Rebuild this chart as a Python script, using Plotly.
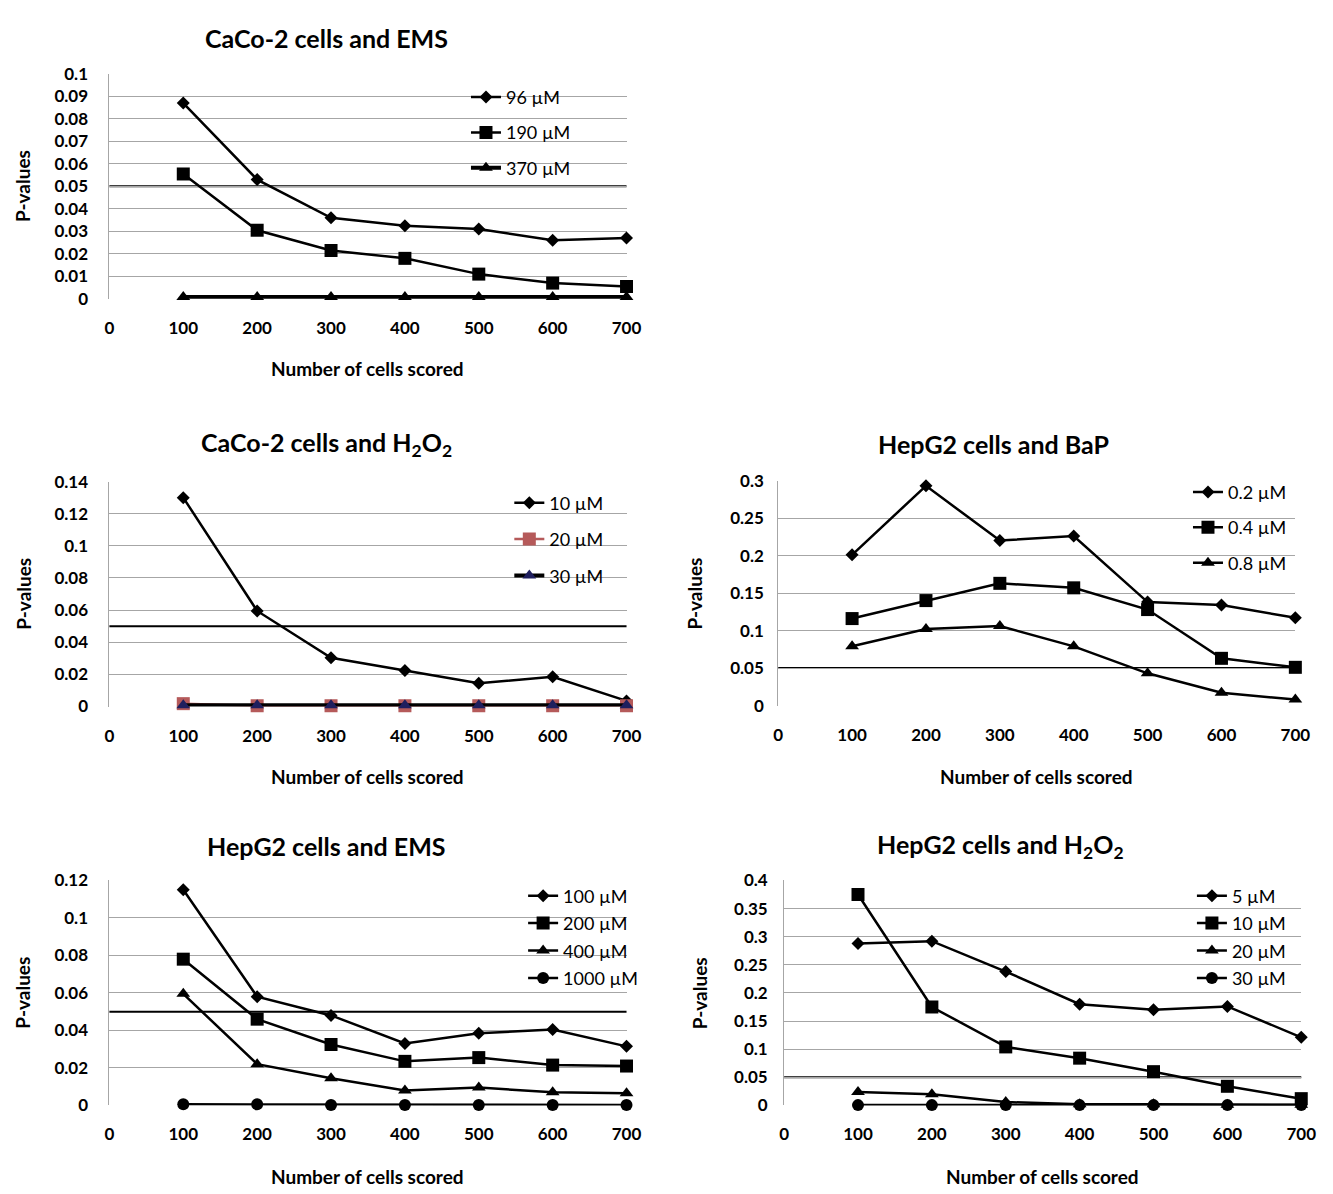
import plotly.graph_objects as go

W, H = 1333, 1194
cells = [100, 200, 300, 400, 500, 600, 700]
x_ticks = [0, 100, 200, 300, 400, 500, 600, 700]
THRESH = 0.05

# Panel 1: CaCo-2 cells and EMS
p1_names = ["96 µM", "190 µM", "370 µM"]
p1_96 = [0.087, 0.053, 0.036, 0.0325, 0.031, 0.026, 0.027]
p1_190 = [0.0555, 0.0305, 0.0215, 0.018, 0.011, 0.007, 0.0055]
p1_370 = [0.0008, 0.0008, 0.0008, 0.0008, 0.0008, 0.0008, 0.0008]

# Panel 2: CaCo-2 cells and H2O2
p2_names = ["10 µM", "20 µM", "30 µM"]
p2_10 = [0.13, 0.0595, 0.0303, 0.0225, 0.0145, 0.0185, 0.0035]
p2_20 = [0.0018, 0.0005, 0.0005, 0.0005, 0.0005, 0.0005, 0.0005]
p2_30 = [0.0008, 0.0008, 0.0008, 0.0008, 0.0008, 0.0008, 0.0008]

# Panel 3: HepG2 cells and BaP
p3_names = ["0.2 µM", "0.4 µM", "0.8 µM"]
p3_02 = [0.201, 0.293, 0.220, 0.226, 0.138, 0.134, 0.117]
p3_04 = [0.116, 0.140, 0.163, 0.157, 0.128, 0.063, 0.051]
p3_08 = [0.079, 0.102, 0.106, 0.079, 0.043, 0.017, 0.008]

# Panel 4: HepG2 cells and EMS
p4_names = ["100 µM", "200 µM", "400 µM", "1000 µM"]
p4_100 = [0.115, 0.058, 0.048, 0.033, 0.0385, 0.0405, 0.0315]
p4_200 = [0.078, 0.046, 0.0325, 0.0235, 0.0255, 0.0215, 0.021]
p4_400 = [0.0595, 0.022, 0.0145, 0.008, 0.0095, 0.007, 0.0065]
p4_1000 = [0.0006, 0.0006, 0.0002, 0.0002, 0.0002, 0.0002, 0.0002]

# Panel 5: HepG2 cells and H2O2
p5_names = ["5 µM", "10 µM", "20 µM", "30 µM"]
p5_5 = [0.288, 0.292, 0.238, 0.180, 0.170, 0.176, 0.121]
p5_10 = [0.375, 0.175, 0.104, 0.084, 0.060, 0.034, 0.012]
p5_20 = [0.024, 0.020, 0.006, 0.002, 0.002, 0.001, 0.001]
p5_30 = [0.0005, 0.0005, 0.0005, 0.0005, 0.0005, 0.0005, 0.0005]

titles = ["CaCo-2 cells and EMS", "CaCo-2 cells and H<sub>2</sub>O<sub>2</sub>",
          "HepG2 cells and BaP", "HepG2 cells and EMS", "HepG2 cells and H<sub>2</sub>O<sub>2</sub>"]
y_ranges = [[0, 0.1], [0, 0.14], [0, 0.3], [0, 0.12], [0, 0.4]]
y_dtick = [0.01, 0.02, 0.05, 0.02, 0.05]

FONT = "Lato, 'Open Sans', sans-serif"
BLACK = "#000000"
GRID = "#a6a6a6"

def px_x(p):
    return p / W

def px_y(p):
    return 1 - p / H

# plot area pixel boxes (left, right, top, bottom)
boxes = [
    (106, 631, 64, 293),
    (106, 631, 479, 708),
    (785, 1310, 478, 707),
    (106, 631, 885, 1114),
    (791, 1316, 885, 1114),
]

SYM = {"d": ("diamond", 10), "s": ("square", 13), "t": ("triangle-up", 12), "c": ("circle", 12)}

panels = [
    [(p1_names[0], p1_96, "d", BLACK, BLACK, 2.5),
     (p1_names[1], p1_190, "s", BLACK, BLACK, 2.5),
     (p1_names[2], p1_370, "t", BLACK, BLACK, 4)],
    [(p2_names[0], p2_10, "d", BLACK, BLACK, 2.5),
     (p2_names[1], p2_20, "s", "#b55a5a", "#b55a5a", 2.5),
     (p2_names[2], p2_30, "t", "#1f1f5e", BLACK, 4)],
    [(p3_names[0], p3_02, "d", BLACK, BLACK, 2.5),
     (p3_names[1], p3_04, "s", BLACK, BLACK, 2.5),
     (p3_names[2], p3_08, "t", BLACK, BLACK, 2.5)],
    [(p4_names[0], p4_100, "d", BLACK, BLACK, 2.5),
     (p4_names[1], p4_200, "s", BLACK, BLACK, 2.5),
     (p4_names[2], p4_400, "t", BLACK, BLACK, 2.5),
     (p4_names[3], p4_1000, "c", BLACK, BLACK, 2.5)],
    [(p5_names[0], p5_5, "d", BLACK, BLACK, 2.5),
     (p5_names[1], p5_10, "s", BLACK, BLACK, 2.5),
     (p5_names[2], p5_20, "t", BLACK, BLACK, 2.5),
     (p5_names[3], p5_30, "c", BLACK, BLACK, 2.5)],
]

# legend anchor (px: left, top) and gap between entries
legend_pos = [(468, 69, 9), (512, 482, 10), (1201, 471, 9), (526, 882, 1), (1205, 882, 1)]
title_pos = [(326, 27), (326, 441), (1004, 441), (326, 850), (1011, 850)]
ytitle_x = [18, 18, 700, 18, 705]
xtitle_y = [364, 779, 779, 1186, 1186]
ystandoff = [17, 17, 10, 17, 12]

fig = go.Figure()
layout = dict(
    autosize=True, margin=dict(l=0, r=0, t=0, b=0),
    paper_bgcolor="white", plot_bgcolor="white",
    font=dict(family=FONT, color=BLACK), showlegend=True,
)
annotations = []
shapes = []

for i, (box, series) in enumerate(zip(boxes, panels)):
    n = i + 1
    xa = "x" if n == 1 else f"x{n}"
    ya = "y" if n == 1 else f"y{n}"
    leg = "legend" if n == 1 else f"legend{n}"
    l, r, t, b = box
    for j, (name, vals, sym, mcol, lcol, lw) in enumerate(series):
        s, sz = SYM[sym]
        fig.add_trace(go.Scatter(
            x=cells, y=vals, name=name, mode="lines+markers",
            line=dict(color=lcol, width=lw),
            marker=dict(symbol=s, size=sz, color=mcol),
            xaxis=xa, yaxis=ya, legend=leg, legendgroup=f"p{n}g{j}",
            cliponaxis=False,
        ))
    layout[f"xaxis{'' if n == 1 else n}"] = dict(
        domain=[px_x(l), px_x(r)], anchor=ya, range=[0, 700],
        tickvals=x_ticks, showgrid=False, zeroline=False, showline=False,
        ticks="", tickfont=dict(size=17, family=FONT, color=BLACK, weight="bold"),
        ticklabelstandoff=17,
    )
    layout[f"yaxis{'' if n == 1 else n}"] = dict(
        domain=[px_y(b), px_y(t)], anchor=xa, range=y_ranges[i], dtick=y_dtick[i],
        showgrid=True, gridcolor=GRID, gridwidth=1, zeroline=False,
        showline=True, linecolor=GRID, linewidth=1,
        ticks="", tickfont=dict(size=17, family=FONT, color=BLACK, weight="bold"),
        ticklabelstandoff=ystandoff[i],
    )
    lx, ly, gap = legend_pos[i]
    layout[leg] = dict(
        x=px_x(lx), y=px_y(ly), xanchor="left", yanchor="top",
        xref="paper", yref="paper", bgcolor="rgba(0,0,0,0)",
        font=dict(size=18, family=FONT, color=BLACK),
        tracegroupgap=gap, traceorder="grouped", itemwidth=30,
    )
    shapes.append(dict(type="line", xref=f"{xa} domain", yref=ya,
                       x0=0, x1=1, y0=THRESH, y1=THRESH,
                       line=dict(color=BLACK, width=2), layer="below"))
    tx, ty = title_pos[i]
    annotations.append(dict(text=f"<b>{titles[i]}</b>", x=px_x(tx), y=px_y(ty),
                            xref="paper", yref="paper", showarrow=False,
                            xanchor="center", yanchor="middle",
                            font=dict(size=25, family=FONT, color=BLACK)))
    annotations.append(dict(text="<b>P-values</b>", x=px_x(ytitle_x[i]), y=px_y((t + b) / 2),
                            xref="paper", yref="paper", showarrow=False, textangle=-90,
                            xanchor="center", yanchor="middle",
                            font=dict(size=19, family=FONT, color=BLACK)))
    annotations.append(dict(text="<b>Number of cells scored</b>", x=px_x((l + r) / 2),
                            y=px_y(xtitle_y[i]), xref="paper", yref="paper",
                            showarrow=False, xanchor="center", yanchor="middle",
                            font=dict(size=19, family=FONT, color=BLACK)))

layout["annotations"] = annotations
layout["shapes"] = shapes
fig.update_layout(**layout)
fig.write_html("out.html", config={"displayModeBar": False, "responsive": True},
               default_width="100vw", default_height="100vh",
               post_script="document.body.style.margin='0';document.documentElement.style.overflow='hidden';document.body.style.overflow='hidden';")
